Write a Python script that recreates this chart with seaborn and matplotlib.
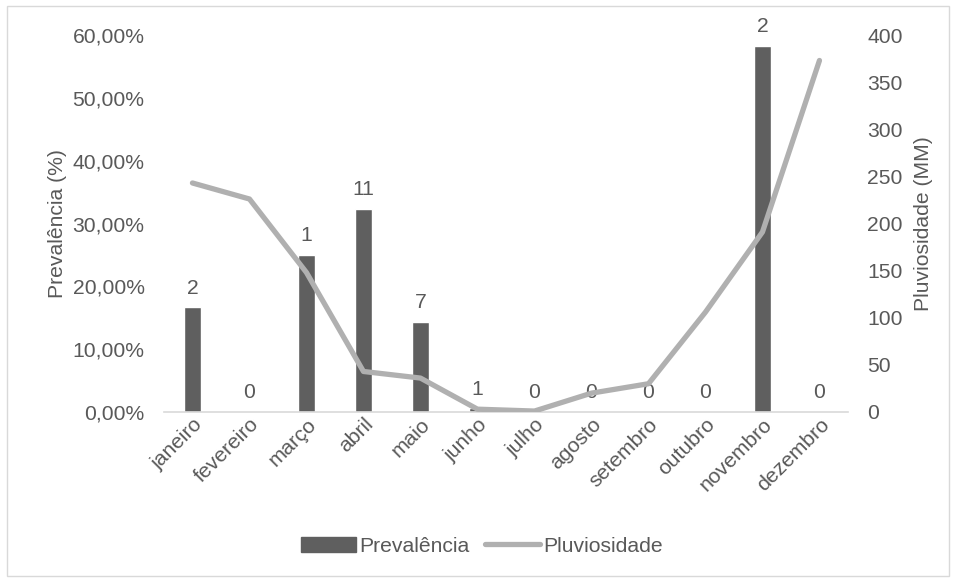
import matplotlib
matplotlib.use("Agg")
import matplotlib.pyplot as plt
import matplotlib.patches as mpatches
from matplotlib.lines import Line2D
from matplotlib.ticker import FuncFormatter
import numpy as np
import pandas as pd
import seaborn as sns

meses = ["janeiro", "fevereiro", "março", "abril", "maio", "junho",
         "julho", "agosto", "setembro", "outubro", "novembro", "dezembro"]
prevalencia = [16.67, 0.0, 25.0, 32.35, 14.29, 0.6, 0.0, 0.0, 0.0, 0.0, 58.33, 0.0]
casos = [2, 0, 1, 11, 7, 1, 0, 0, 0, 0, 2, 0]
pluviosidade = [243, 226, 148, 43, 36, 3, 1, 20, 30, 106, 191, 373]

sns.set_theme(style="white")
plt.rcParams["font.family"] = ["Liberation Sans", "DejaVu Sans"]

TXT = "#595959"
BAR = "#5f5f5f"
LINE = "#b0b0b0"
FS = 15.2

df = pd.DataFrame({"mes": meses, "prev": prevalencia, "pluv": pluviosidade,
                   "pos": np.arange(len(meses))})

fig = plt.figure(figsize=(9.56, 5.78), dpi=100)
ax = fig.add_axes([0.1715, 0.2872, 0.887 - 0.1715, 0.9394 - 0.2872])

sns.barplot(data=df, x="mes", y="prev", color=BAR, width=0.29,
            saturation=1, ax=ax, zorder=2)
ax.set_ylim(0, 60)
ax.set_xlim(-0.5, len(meses) - 0.5)
ax.set_yticks(np.arange(0, 61, 10))
ax.yaxis.set_major_formatter(FuncFormatter(lambda v, p: f"{v:.2f}%".replace(".", ",")))
ax.set_xlabel("")
ax.set_ylabel("Prevalência (%)", fontsize=FS, color=TXT, labelpad=4)
ax.tick_params(axis="y", labelsize=FS, colors=TXT, length=0, pad=14)
ax.tick_params(axis="x", labelsize=FS, colors=TXT, length=0, pad=2)
plt.setp(ax.get_xticklabels(), rotation=45, ha="right", rotation_mode="anchor")
for s in ["top", "right", "left"]:
    ax.spines[s].set_visible(False)
ax.spines["bottom"].set_color("#d9d9d9")
ax.spines["bottom"].set_linewidth(1.2)

for i, (v, n) in enumerate(zip(prevalencia, casos)):
    ax.annotate(str(n), (i, v), xytext=(0, 7), textcoords="offset points",
                ha="center", va="bottom", fontsize=FS, color=TXT, zorder=5)

ax2 = ax.twinx()
sns.lineplot(data=df, x="pos", y="pluv", color=LINE, linewidth=3.8, ax=ax2,
             zorder=3)
ax2.set_ylim(0, 400)
ax2.set_yticks(np.arange(0, 401, 50))
ax2.set_xlim(-0.5, len(meses) - 0.5)
ax2.set_xlabel("")
ax2.set_ylabel("Pluviosidade (MM)", fontsize=FS, color=TXT, labelpad=8)
ax2.tick_params(axis="y", labelsize=FS, colors=TXT, length=0, pad=14)
for s in ax2.spines.values():
    s.set_visible(False)

handles = [mpatches.Patch(color=BAR, label="Prevalência"),
           Line2D([0], [0], color=LINE, linewidth=3.8, label="Pluviosidade",
                  solid_capstyle="round")]
fig.legend(handles=handles, loc="center", bbox_to_anchor=(0.504, 0.055),
           ncol=2, frameon=False, fontsize=FS, labelcolor=TXT,
           handlelength=2.6, handletextpad=0.15, columnspacing=0.75)

fig.patches.append(mpatches.Rectangle((7 / 956, 2 / 578), 942 / 956, 570 / 578,
                                      transform=fig.transFigure, fill=False,
                                      edgecolor="#d9d9d9", linewidth=1.0))

fig.savefig("out.png", dpi=100)
